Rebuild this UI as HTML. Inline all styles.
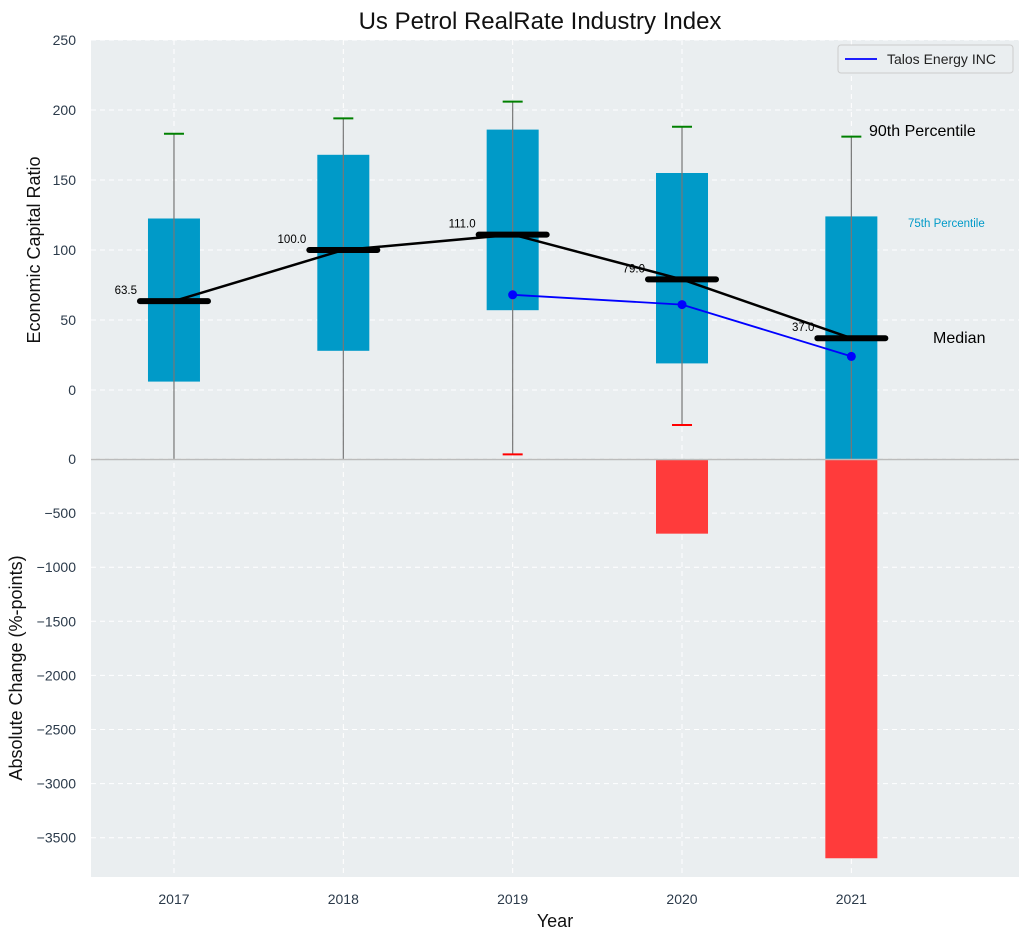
<!DOCTYPE html>
<html><head><meta charset="utf-8"><style>
body{margin:0;background:#fff;font-family:"Liberation Sans",sans-serif}
svg text{font-family:"Liberation Sans",sans-serif}
</style></head><body>
<svg id="c" width="1029" height="940"></svg>
<script>
const years=[2017,2018,2019,2020,2021];
const q25=[6,28,57,19,-50];
const q75=[122.5,168,186,155,124];
const p90=[183,194,206,188,181];
const p10=[-50,-50,-46,-25,-50];
const lowCap=[false,false,true,true,false];
const medians=[63.5,100,111,79,37];
const medianLabels=["63.5","100.0","111.0","79.0","37.0"];
const talosYears=[2019,2020,2021];
const talosVals=[68,61,24];
const changes=[0,0,0,-690,-3690];
const topTicks=[0,50,100,150,200,250];
const botTicks=[0,-500,-1000,-1500,-2000,-2500,-3000,-3500];

const NS="http://www.w3.org/2000/svg";
const svg=document.getElementById('c');
function mk(t,a,p){const e=document.createElementNS(NS,t);for(const k in a)e.setAttribute(k,a[k]);(p||svg).appendChild(e);return e;}
const L=91,R=1019;
const x=v=>L+(v-2016.51)/(2021.99-2016.51)*(R-L);
const yT=v=>390-v*1.4;
const yB=v=>459-v/500*54.1;
const bw=52;

let e;
e=mk('rect',{x:L,y:40,width:R-L,height:419,fill:'#eaeef0'});

e=mk('rect',{x:L,y:460,width:R-L,height:417,fill:'#eaeef0'});


topTicks.forEach(t=>{
 e=mk('line',{x1:L,x2:R,y1:yT(t),y2:yT(t),stroke:'#fff','stroke-dasharray':'5,4'});
 
 e=mk('text',{x:76,y:yT(t)+5,'text-anchor':'end','font-size':14,fill:'#2b3a4a'});e.textContent=t;
 
});
botTicks.forEach(t=>{
 e=mk('line',{x1:L,x2:R,y1:yB(t),y2:yB(t),stroke:'#fff','stroke-dasharray':'5,4'});
 
 e=mk('text',{x:76,y:yB(t)+5,'text-anchor':'end','font-size':14,fill:'#2b3a4a'});e.textContent=(t<0?'\u2212'+(-t):t);
 
});
years.forEach(yr=>{
 e=mk('line',{x1:x(yr),x2:x(yr),y1:40,y2:877,stroke:'#fff','stroke-dasharray':'5,4'});
 
 e=mk('text',{x:x(yr),y:904,'text-anchor':'middle','font-size':14,fill:'#2b3a4a'});e.textContent=yr;
 
});

const clipTop=v=>Math.min(459,yT(v));
years.forEach((yr,i)=>{
 const cx=x(yr);
 e=mk('rect',{x:cx-bw/2,y:yT(q75[i]),width:bw,height:clipTop(q25[i])-yT(q75[i]),fill:'#009ac8'});
 
 e=mk('line',{x1:cx,x2:cx,y1:yT(p90[i]),y2:clipTop(p10[i]),stroke:'#777','stroke-width':1.2});
 
 e=mk('line',{x1:cx-10,x2:cx+10,y1:yT(p90[i]),y2:yT(p90[i]),stroke:'green','stroke-width':2});
 
 if(lowCap[i]){
  e=mk('line',{x1:cx-10,x2:cx+10,y1:yT(p10[i]),y2:yT(p10[i]),stroke:'red','stroke-width':2});
  
 }
 if(changes[i]<0){
  e=mk('rect',{x:cx-bw/2,y:yB(0),width:bw,height:yB(changes[i])-yB(0),fill:'#ff3b3b'});
  
 }
});
e=mk('line',{x1:L,x2:R,y1:459.5,y2:459.5,stroke:'#bbb','stroke-width':1.5});


e=mk('polyline',{points:years.map((yr,i)=>x(yr)+','+yT(medians[i])).join(' '),fill:'none',stroke:'#000','stroke-width':2.5});

years.forEach((yr,i)=>{
 const cx=x(yr),cy=yT(medians[i]);
 e=mk('line',{x1:cx-34,x2:cx+34,y1:cy,y2:cy,stroke:'#000','stroke-width':6,'stroke-linecap':'round'});
 
 e=mk('text',{x:cx-37,y:cy-7,'text-anchor':'end','font-size':11.5,fill:'#000'});e.textContent=medianLabels[i];
 
});
e=mk('polyline',{points:talosYears.map((yr,i)=>x(yr)+','+yT(talosVals[i])).join(' '),fill:'none',stroke:'#0000ff','stroke-width':1.8});

talosYears.forEach((yr,i)=>{
 e=mk('circle',{cx:x(yr),cy:yT(talosVals[i]),r:4.5,fill:'#0000ff'});
 
});

function txt(s,a,n){e=mk('text',a);e.textContent=s;return e;}
txt('90th Percentile',{x:869,y:136,'font-size':16,fill:'#000'},'p90-annotation');
txt('75th Percentile',{x:908,y:227,'font-size':11.5,fill:'#009ac8'},'p75-annotation');
txt('Median',{x:933,y:343,'font-size':16,fill:'#000'},'median-annotation');
txt('Us Petrol RealRate Industry Index',{x:540,y:29,'text-anchor':'middle','font-size':24,fill:'#111'},'chart-title');
txt('Economic Capital Ratio',{x:0,y:0,'font-size':18,fill:'#111','text-anchor':'middle',transform:'translate(40,250) rotate(-90)'},'top-y-axis-title');
txt('Absolute Change (%-points)',{x:0,y:0,'font-size':18,fill:'#111','text-anchor':'middle',transform:'translate(22,668) rotate(-90)'},'bottom-y-axis-title');
txt('Year',{x:555,y:927,'text-anchor':'middle','font-size':18,fill:'#111'},'x-axis-title');

const g=mk('g',{});
mk('rect',{x:838,y:45,width:175,height:28,fill:'#eaeef0',stroke:'#ccc',rx:3},g);
mk('line',{x1:845,x2:877,y1:59,y2:59,stroke:'#0000ff','stroke-width':1.8},g);
e=mk('text',{x:887,y:64,'font-size':14,fill:'#222'},g);e.textContent='Talos Energy INC';
</script>
</body></html>
